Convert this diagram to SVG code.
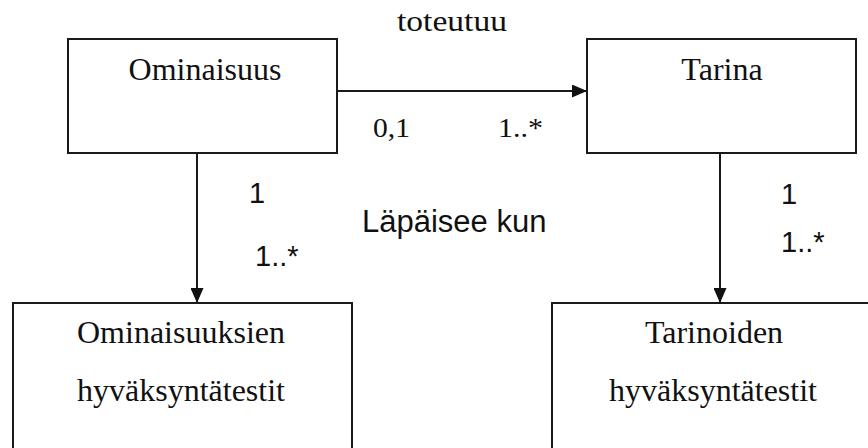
<svg xmlns="http://www.w3.org/2000/svg" width="868" height="448" viewBox="0 0 868 448">
  <defs>
    <style>
      .box { fill: #ffffff; stroke: #1a1a1a; stroke-width: 2; }
      .line { fill: none; stroke: #1a1a1a; stroke-width: 2; }
      .serif { font-family: "Liberation Serif", "Times New Roman", serif; fill: #111111; }
      .sans { font-family: "Liberation Sans", Arial, sans-serif; fill: #111111; }
      .label { font-size: 32px; text-anchor: middle; }
    </style>
    <marker id="arrow" markerUnits="userSpaceOnUse" markerWidth="16" markerHeight="13" refX="15" refY="6.5" orient="auto">
      <path d="M0,0 L15,6.5 L0,13 Z" fill="#111111"/>
    </marker>
  </defs>

  <rect width="868" height="448" fill="#ffffff"/>

  <!-- connectors -->
  <g id="connectors">
    <line class="line" x1="337" y1="91" x2="587" y2="91" marker-end="url(#arrow)"/>
    <line class="line" x1="197" y1="153" x2="197" y2="303" marker-end="url(#arrow)"/>
    <line class="line" x1="720" y1="153" x2="720" y2="303" marker-end="url(#arrow)"/>
  </g>

  <!-- association labels -->
  <g id="labels">
    <text class="serif" x="397" y="31" font-size="29" textLength="110" lengthAdjust="spacingAndGlyphs">toteutuu</text>
    <text class="serif" x="373" y="137" font-size="28" textLength="37" lengthAdjust="spacingAndGlyphs">0,1</text>
    <text class="serif" x="498" y="137" font-size="28" textLength="45" lengthAdjust="spacingAndGlyphs">1..*</text>
    <text class="sans" x="249" y="203" font-size="29">1</text>
    <text class="sans" x="255" y="266" font-size="29">1..*</text>
    <text class="sans" x="362" y="232" font-size="31">Läpäisee kun</text>
    <text class="sans" x="781" y="204" font-size="29">1</text>
    <text class="sans" x="781" y="252" font-size="29">1..*</text>
  </g>

  <!-- nodes -->
  <g id="ominaisuus">
    <rect class="box" x="68" y="39" width="269" height="114"/>
    <text class="serif label" x="205" y="80">Ominaisuus</text>
  </g>

  <g id="tarina">
    <rect class="box" x="587" y="39" width="269" height="114"/>
    <text class="serif label" x="722" y="80">Tarina</text>
  </g>

  <g id="ominaisuuksien-testit">
    <rect class="box" x="13" y="303" width="339" height="160"/>
    <text class="serif label" x="181" y="343">Ominaisuuksien</text>
    <text class="serif label" x="181" y="401">hyväksyntätestit</text>
  </g>

  <g id="tarinoiden-testit">
    <rect class="box" x="552" y="303" width="340" height="160"/>
    <text class="serif label" x="714" y="343">Tarinoiden</text>
    <text class="serif label" x="713" y="401">hyväksyntätestit</text>
  </g>
</svg>
